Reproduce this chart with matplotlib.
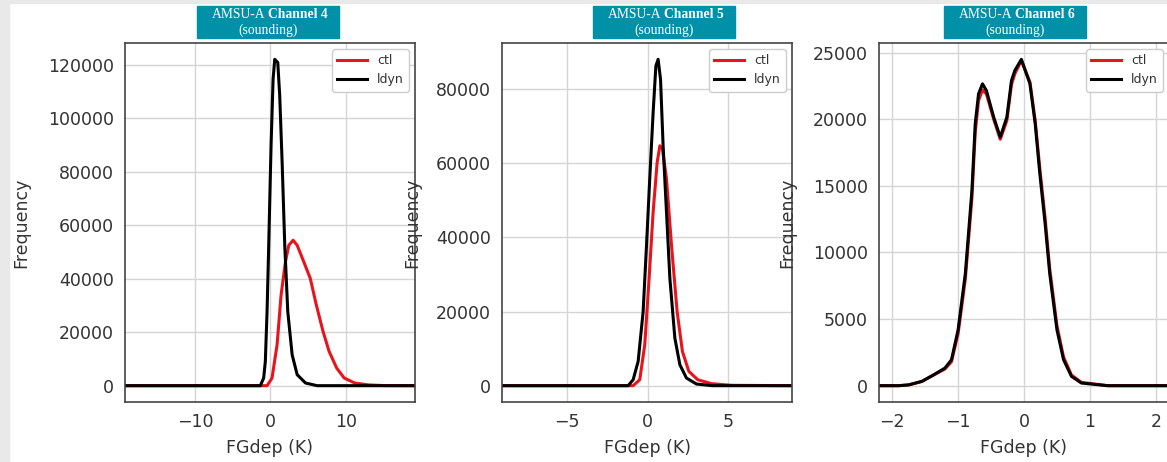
import matplotlib.pyplot as plt
from matplotlib.patches import Rectangle

# =========================
# DATA
# =========================

channels = ["Channel 4", "Channel 5", "Channel 6"]

# Channel 4
ch4_ctl_x = [-19.3, -2.0, -0.44, 0.22, 0.89, 1.42, 2.0, 2.44, 3.02, 3.56, 4.44, 5.3,
             6.1, 7.0, 7.8, 8.8, 9.8, 11.2, 13.0, 15.0, 19.3]
ch4_ctl_y = [0, 0, 0, 2860, 15300, 33900, 46300, 52500, 54400, 52500, 46300, 40100,
             30200, 20200, 12800, 6600, 2860, 1000, 300, 50, 0]
ch4_ldyn_x = [-19.3, -2.0, -1.33, -0.89, -0.67, -0.44, -0.22, 0.09, 0.36, 0.58, 0.98,
              1.24, 1.56, 1.91, 2.31, 2.89, 3.56, 4.67, 6.2, 19.3]
ch4_ldyn_y = [0, 0, 0, 2860, 9070, 27700, 52500, 89800, 114700, 122100, 120900,
              108500, 83600, 52500, 27700, 11550, 4100, 1000, 0, 0]

# Channel 5
ch5_ctl_x = [-9.0, -2.0, -0.91, -0.5, -0.19, 0.08, 0.33, 0.58, 0.75, 0.91, 1.16, 1.47,
             1.82, 2.15, 2.55, 3.1, 3.95, 5.2, 9.0]
ch5_ctl_y = [0, 0, 0, 1610, 11000, 28900, 46800, 60200, 64700, 63800, 55770, 37860,
             19950, 9200, 3840, 1610, 540, 100, 0]
ch5_ldyn_x = [-9.0, -2.0, -1.22, -0.91, -0.6, -0.29, -0.08, 0.12, 0.33, 0.5, 0.64, 0.79,
              0.95, 1.16, 1.37, 1.68, 1.99, 2.4, 3.02, 4.0, 9.0]
ch5_ldyn_y = [0, 0, 0, 1610, 6530, 19950, 37860, 55770, 73660, 86200, 88000, 82600,
              64700, 46800, 28900, 12800, 5640, 2060, 450, 0, 0]

# Channel 6
ch6_x = [-2.2, -1.9, -1.75, -1.55, -1.37, -1.2, -1.1, -1.0, -0.89, -0.79, -0.74, -0.69,
         -0.63, -0.57, -0.46, -0.36, -0.26, -0.19, -0.14, -0.04, 0.09, 0.17, 0.24, 0.32,
         0.39, 0.5, 0.6, 0.72, 0.87, 1.27, 2.2]
ch6_ctl_y = [0, 0, 60, 320, 800, 1250, 1800, 3900, 8000, 14100, 19000, 21400,
             22200, 21900, 20000, 18500, 19900, 22600, 23400, 24400, 22800, 19900, 16300, 12600,
             8800, 4500, 2150, 800, 250, 0, 0]
ch6_ldyn_y = [0, 0, 60, 320, 820, 1320, 1950, 4190, 8430, 14670, 19660, 21900,
              22660, 22150, 20160, 18660, 20160, 22900, 23650, 24500, 22660, 19660, 15920, 12180,
              8430, 4190, 1950, 700, 200, 0, 0]

ctl_x = [ch4_ctl_x, ch5_ctl_x, ch6_x]
ctl_y = [ch4_ctl_y, ch5_ctl_y, ch6_ctl_y]
ldyn_x = [ch4_ldyn_x, ch5_ldyn_x, ch6_x]
ldyn_y = [ch4_ldyn_y, ch5_ldyn_y, ch6_ldyn_y]

xlims = [(-19.3, 19.2), (-9.05, 8.95), (-2.2, 2.2)]
xticks = [[-10, 0, 10], [-5, 0, 5], [-2, -1, 0, 1, 2]]

# =========================
# FIGURE
# =========================

W, H = 1167, 462
fig = plt.figure(figsize=(W / 100, H / 100), dpi=100)

# screenshot border
fig.patches.append(Rectangle((0, 0), 9 / W, 1, transform=fig.transFigure,
                             color="#e9e9e9", zorder=0))
fig.patches.append(Rectangle((0, 1 - 3 / H), 1, 3 / H, transform=fig.transFigure,
                             color="#e9e9e9", zorder=0))

axes_left = [125, 502, 879]
box_center = [268, 664, 1015]
ylabel_x = [30, 421, 796]

for i in range(3):
    ax = fig.add_axes([axes_left[i] / W, 1 - 402 / H, 290 / W, 359 / H])
    ax.plot(ctl_x[i], ctl_y[i], color="#e8141c", lw=2.2, label="ctl")
    ax.plot(ldyn_x[i], ldyn_y[i], color="black", lw=2.2, label="ldyn")
    ax.set_xlim(*xlims[i])
    ax.set_xticks(xticks[i])
    ax.grid(True, color="#d5d5d5", lw=1)
    ax.set_axisbelow(True)
    for s in ax.spines.values():
        s.set_color("#444444")
        s.set_linewidth(1.2)
    ax.tick_params(length=0, labelsize=12.5, labelcolor="#333333", pad=8)
    ax.set_xlabel("FGdep (K)", fontsize=12.5, color="#333333", labelpad=6)
    ax.set_ylabel("Frequency", fontsize=12.5, color="#333333")
    ax.yaxis.set_label_coords((ylabel_x[i] - axes_left[i]) / 290, 0.5)
    leg = ax.legend(loc="upper right", fontsize=9, handlelength=2.4,
                    borderaxespad=0.5, fancybox=True, framealpha=1)
    leg.get_frame().set_edgecolor("#cccccc")
    for t in leg.get_texts():
        t.set_color("#333333")

    # teal title box
    cx = box_center[i]
    fig.patches.append(Rectangle(((cx - 71) / W, 1 - 38 / H), 142 / W, 32 / H,
                                 transform=fig.transFigure, color="#0090a7", zorder=5))
    fig.text((cx - 3) / W, 1 - 15 / H, "AMSU-A", ha="right", va="center",
             family="Liberation Serif", fontsize=9.8, color="white", zorder=6)
    fig.text(cx / W, 1 - 15 / H, channels[i], ha="left", va="center",
             family="Liberation Serif", fontsize=9.8, fontweight="bold",
             color="white", zorder=6)
    fig.text(cx / W, 1 - 30 / H, "(sounding)", ha="center", va="center",
             family="Liberation Serif", fontsize=9.8, color="white", zorder=6)

fig.savefig("out.png", dpi=100)
